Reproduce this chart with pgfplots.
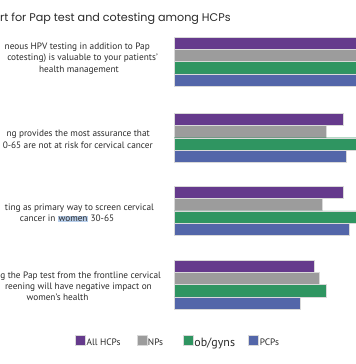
\documentclass[border=0pt]{standalone}
\usepackage{pgfplots}
\pgfplotsset{compat=1.18}
\usepackage{fontspec}
\setmainfont{PT Sans}
\newfontfamily\titlefont{Poppins}
\definecolor{cpurple}{HTML}{653A8C}
\definecolor{cgray}{HTML}{9C9C9C}
\definecolor{cgreen}{HTML}{2F9561}
\definecolor{cblue}{HTML}{5366A9}
\definecolor{hl}{HTML}{B8CFEC}
\definecolor{txt}{HTML}{2A2A2A}
\begin{document}
\begin{tikzpicture}
\useasboundingbox (0,0) rectangle (356bp,364bp);
\begin{axis}[
  at={(174bp,0bp)}, anchor=south west,
  scale only axis, width=182bp, height=364bp,
  xmin=0, xmax=182, ymin=-364, ymax=0,
  axis lines=none, ticks=none,
  xbar, bar shift=0pt, bar width=12.3,
  legend image code/.code={\draw[#1,draw=white!85!black,line width=0.4pt] (0bp,-2bp) rectangle (10bp,8bp);},
  legend style={at={(rel axis cs:-0.544,0.06)}, anchor=west, draw=none, fill=none,
    inner sep=0pt, legend columns=4, font=\fontsize{9.4}{10}\selectfont\color{txt},
    nodes={inner xsep=1bp}},
]
\addplot[fill=cpurple, draw=white!85!black, line width=0.3pt] coordinates {(189,-43.4) (169,-119.4) (169,-192.2) (140,-266.2)};
\addlegendentry{\makebox[49bp][l]{All HCPs}}
\addplot[fill=cgray, draw=white!85!black, line width=0.3pt] coordinates {(190,-55.6) (152,-131.7) (148,-204.6) (145,-278.5)};
\addlegendentry{\makebox[34bp][l]{NPs}}
\addplot[fill=cgreen, draw=white!85!black, line width=0.3pt] coordinates {(190,-67.8) (190,-143.9) (190,-217.0) (152,-290.8)};
\addlegendentry{\makebox[53bp][l]{\fontsize{12}{12}\selectfont ob/gyns}}
\addplot[fill=cblue, draw=white!85!black, line width=0.3pt] coordinates {(190,-80.0) (172,-156.2) (175,-229.5) (126,-303.1)};
\addlegendentry{PCPs}
\end{axis}
\begin{scope}[x=1bp,y=-1bp,shift={(0,364bp)},every node/.style={inner sep=0pt,text=txt,font=\fontsize{9.3}{11}\selectfont}]
\node[anchor=base west,font=\titlefont\fontsize{11.2}{13}\selectfont] at (0,22) {rt for Pap test and cotesting among HCPs};
\node[anchor=base east] at (150,49.5) {neous HPV testing in addition to Pap};
\node[anchor=base east] at (158,61) {cotesting) is valuable to your patients’};
\node[anchor=base] at (79,72.5) {health management};
\node[anchor=base east] at (150,136.5) {ng provides the most assurance that};
\node[anchor=base east] at (153,148.5) {0-65 are not at risk for cervical cancer};
\node[anchor=base east] at (154,210.5) {ting as primary way to screen cervical};
\node[anchor=base] at (67,221.5) {\setlength{\fboxsep}{0.6bp}cancer in \colorbox{hl}{women} 30-65};
\node[anchor=base east] at (161,278.5) {g the Pap test from the frontline cervical};
\node[anchor=base east] at (152,289.5) {reening will have negative impact on};
\node[anchor=base] at (57.5,300.5) {women’s health};
\end{scope}
\end{tikzpicture}
\end{document}
